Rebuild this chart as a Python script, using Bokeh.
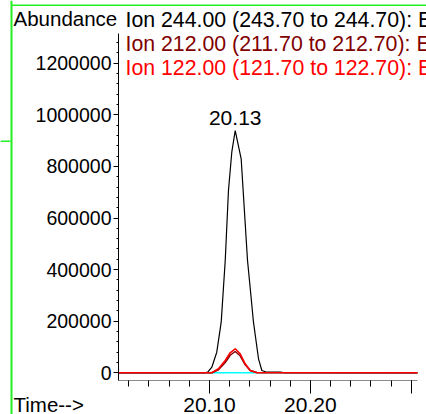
from bokeh.plotting import figure
from bokeh.models import (Range1d, FixedTicker, SingleIntervalTicker,
                          PrintfTickFormatter, Label, BoxAnnotation)
from bokeh.embed import file_html
from bokeh.resources import INLINE

# ---- data ----
time_244 = [20.0098, 20.0950, 20.0983, 20.1023, 20.1072, 20.1116, 20.1156, 20.1188,
            20.1221, 20.1255, 20.1314, 20.1377, 20.1404, 20.1436, 20.1486, 20.1519,
            20.1568, 20.1704, 20.1744, 20.3062]
abund_244 = [0, 0, 2300, 21700, 79800, 196100, 435300, 706600,
             855000, 939100, 829500, 435300, 326700, 196100, 54300, 8900,
             2300, 3100, 0, 0]

time_212 = [20.0098, 20.1023, 20.1089, 20.1156, 20.1205, 20.1255, 20.1304, 20.1354,
            20.1404, 20.1469, 20.3062]
abund_212 = [0, 0, 12000, 40000, 68000, 82500, 66000, 31000, 9000, 1000, 0]

time_122 = [20.0098, 20.1023, 20.1089, 20.1156, 20.1205, 20.1255, 20.1304, 20.1354,
            20.1404, 20.1469, 20.3062]
abund_122 = [0, 0, 15500, 47700, 77500, 93000, 73600, 34900, 8900, 0, 0]

time_base = [20.0098, 20.3062]
abund_base = [0, 0]

x_major = [20.10, 20.20, 20.30]
x_minor = [20.02, 20.04, 20.06, 20.08, 20.10, 20.12, 20.14, 20.16, 20.18,
           20.20, 20.22, 20.24, 20.26, 20.28, 20.30]
y_interval = 200000
legend_texts = ["Ion 244.00 (243.70 to 244.70): E",
                "Ion 212.00 (211.70 to 212.70): E",
                "Ion 122.00 (121.70 to 122.70): E"]
legend_colors = ["#000000", "#7f0000", "#ff0000"]
peak_time = 20.1255
peak_abund = 939100
peak_text = "20.13"

# ---- layout (canvas = frame, 426 x 414) ----
W, H = 426, 414
X0, X1 = 19.892762, 20.315171          # time at left / right canvas edge
Y1, Y0 = 1443035, -161629              # abundance at top / bottom canvas edge
AX_T0, AX_T1 = 20.009767, 20.30625     # x-axis extent
AX_A0, AX_A1 = -27907, 1315127         # y-axis extent
FONT = "Liberation Sans"
SHIFT = 7.5                            # label anchor correction (px)

p = figure(width=W, height=H, output_backend="svg", toolbar_location=None,
           x_range=Range1d(X0, X1), y_range=Range1d(Y0, Y1), min_border=0)
p.outline_line_color = None
p.grid.visible = False
p.background_fill_color = "white"
p.border_fill_color = "white"

# x axis
xa = p.xaxis[0]
xa.fixed_location = AX_A0
xa.bounds = (AX_T0, AX_T1)
xa.ticker = FixedTicker(ticks=x_major, minor_ticks=x_minor)
xa.formatter = PrintfTickFormatter(format="%.2f")
xa.major_label_overrides = {20.30: ""}
xa.axis_line_color = "#8a8a8a"
xa.major_tick_line_color = "black"
xa.minor_tick_line_color = "black"
xa.major_tick_out = 13
xa.major_tick_in = 0
xa.minor_tick_out = 6
xa.minor_tick_in = 0
xa.major_label_standoff = 5
xa.major_label_text_font = FONT
xa.major_label_text_font_size = "21px"
xa.major_label_text_color = "black"

# y axis
ya = p.yaxis[0]
ya.fixed_location = AX_T0
ya.bounds = (AX_A0, AX_A1)
ya.ticker = SingleIntervalTicker(interval=y_interval, num_minor_ticks=5)
ya.formatter = PrintfTickFormatter(format="%d")
ya.axis_line_color = "black"
ya.major_tick_line_color = "black"
ya.minor_tick_line_color = "black"
ya.major_tick_out = 5
ya.major_tick_in = 0
ya.minor_tick_out = 2
ya.minor_tick_in = 0
ya.major_label_standoff = 2
ya.major_label_text_font = FONT
ya.major_label_text_font_size = "19.5px"
ya.major_label_text_color = "black"

# traces
p.line(time_244, abund_244, line_color="black", line_width=1.2)
p.line(time_base, abund_base, line_color="#00ffff", line_width=1.6)
p.line(time_212, abund_212, line_color="#7f0000", line_width=1.5)
p.line(time_122, abund_122, line_color="#ff0000", line_width=1.6)

# peak label
p.add_layout(Label(x=peak_time, y=peak_abund, text=peak_text, text_align="center",
                   text_baseline="alphabetic", y_offset=13, text_font=FONT,
                   text_font_size="21px", text_color="black"))

# header / footer texts (screen units: from frame left, y up from frame bottom)
p.add_layout(Label(x=13, y=H - 25.5 + SHIFT, x_units="screen", y_units="screen",
                   text="Abundance", text_baseline="alphabetic", text_font=FONT,
                   text_font_size="20.5px", text_color="black"))
for i, (t, c) in enumerate(zip(legend_texts, legend_colors)):
    p.add_layout(Label(x=125, y=H - (27.3 + i * 23.85) + SHIFT, x_units="screen",
                       y_units="screen", text=t, text_baseline="alphabetic",
                       text_font=FONT, text_font_size="21.3px", text_color=c))
p.add_layout(Label(x=13, y=H - 411.5 + SHIFT, x_units="screen", y_units="screen",
                   text="Time-->", text_baseline="alphabetic", text_font=FONT,
                   text_font_size="20.5px", text_color="black"))

# green window borders
GREEN = "#22f022"
p.add_layout(BoxAnnotation(left=10, right=12, bottom=0, top=H, left_units="screen",
                           right_units="screen", top_units="screen", bottom_units="screen",
                           fill_color=GREEN, fill_alpha=1, line_color=None))
p.add_layout(BoxAnnotation(left=0, right=10, bottom=H - 141.5, top=H - 140, left_units="screen",
                           right_units="screen", top_units="screen", bottom_units="screen",
                           fill_color=GREEN, fill_alpha=1, line_color=None))
p.add_layout(BoxAnnotation(left=11, right=W, bottom=H - 5.5, top=H - 4, left_units="screen",
                           right_units="screen", top_units="screen", bottom_units="screen",
                           fill_color=GREEN, fill_alpha=1, line_color=None))

open("out.html", "w").write(file_html(p, INLINE))
